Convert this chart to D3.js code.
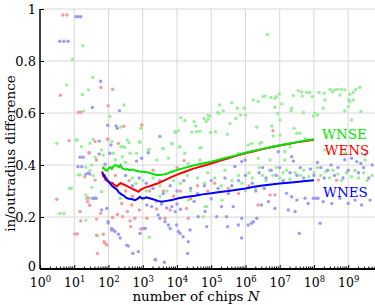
<!DOCTYPE html>
<html><head><meta charset="utf-8">
<script src="https://cdn.jsdelivr.net/npm/d3@7"></script>
<style>body{margin:0;background:#fff}svg{display:block}</style>
</head><body>
<svg id="chart" width="375" height="305"></svg>
<script>
// ---------- data ----------
const xTickExponents = [0,1,2,3,4,5,6,7,8,9];
const yTickValues = [0,0.2,0.4,0.6,0.8,1];
const yTickLabels = ["0","0.2","0.4","0.6","0.8","1"];
const seriesNames = ["WNSE","WENS","WNES"];
const xLabel = "number of chips ";
const xLabelVar = "N";
const yLabel = "in/outradius difference";

// running curves: log10(N) and value
const wnseLogN = [1.82,1.85,1.9,1.95,2.0,2.05,2.1,2.15,2.2,2.25,2.3,2.35,2.4,2.45,2.5,2.55,2.6,2.7,2.8,2.9,3.0,3.1,3.2,3.3,3.4,3.5,3.6,3.7,3.8,3.9,4.0,4.25,4.5,4.75,5.0,5.25,5.5,5.75,6.0,6.25,6.5,6.75,7.0,7.25,7.5,7.75,8.0];
const wnseVal  = [0.385,0.39,0.382,0.378,0.386,0.392,0.385,0.395,0.4,0.398,0.392,0.4,0.388,0.385,0.382,0.384,0.38,0.383,0.378,0.375,0.374,0.372,0.37,0.365,0.362,0.362,0.363,0.366,0.372,0.376,0.381,0.39,0.399,0.406,0.413,0.421,0.43,0.438,0.447,0.455,0.462,0.469,0.476,0.482,0.488,0.494,0.499];
const wensLogN = [1.8,1.83,1.86,1.88,1.9,1.95,2.0,2.05,2.1,2.15,2.2,2.25,2.3,2.35,2.4,2.5,2.6,2.7,2.8,2.87,2.95,3.02,3.1,3.2,3.3,3.45,3.65,3.85,4.04,4.25,4.5,4.75,5.0,5.25,5.5,5.75,6.0,6.25,6.5,6.75,7.0,7.25,7.5,7.75,8.0];
const wensVal  = [0.375,0.37,0.352,0.365,0.345,0.34,0.336,0.333,0.332,0.326,0.322,0.318,0.325,0.33,0.328,0.322,0.315,0.308,0.302,0.297,0.305,0.31,0.315,0.318,0.323,0.33,0.342,0.354,0.365,0.375,0.387,0.396,0.406,0.416,0.426,0.436,0.445,0.453,0.461,0.468,0.475,0.481,0.487,0.492,0.497];
const wnesLogN = [1.82,1.85,1.9,1.95,2.0,2.05,2.1,2.15,2.2,2.25,2.3,2.35,2.4,2.45,2.5,2.55,2.6,2.7,2.77,2.85,2.92,2.97,3.05,3.1,3.2,3.3,3.45,3.55,3.7,3.85,4.04,4.25,4.53,4.75,5.0,5.25,5.5,5.75,6.0,6.25,6.5,6.75,7.0,7.25,7.5,7.75,8.0];
const wnesVal  = [0.368,0.362,0.355,0.345,0.336,0.328,0.32,0.315,0.31,0.305,0.295,0.29,0.285,0.282,0.275,0.272,0.27,0.268,0.265,0.27,0.278,0.272,0.272,0.276,0.272,0.268,0.262,0.259,0.262,0.265,0.272,0.277,0.282,0.287,0.291,0.296,0.3,0.305,0.31,0.316,0.321,0.325,0.329,0.332,0.335,0.338,0.341];

// individual samples: [log10(N), value]
const wnsePoints = [[1.25,0.859],[0.95,0.806],[1.54,0.737],[0.78,0.708],[1.41,0.689],[1.24,0.671],[2.45,0.631],[1.27,0.608],[2.04,0.587],[2.36,0.546],[0.49,0.483],[1.05,0.496],[1.09,0.496],[1.55,0.499],[1.21,0.47],[2.0,0.5],[2.1,0.49],[1.34,0.391],[1.46,0.378],[1.12,0.362],[1.34,0.285],[1.62,0.272],[1.8,0.297],[0.58,0.214],[0.7,0.214],[1.34,0.188],[2.97,0.554],[1.46,0.483],[2.37,0.47],[2.6,0.486],[2.92,0.486],[1.8,0.458],[1.85,0.438],[2.14,0.445],[1.61,0.43],[2.41,0.432],[2.63,0.445],[2.82,0.445],[3.16,0.458],[1.51,0.4],[1.17,0.362],[1.56,0.358],[1.51,0.314],[0.86,0.31],[0.92,0.31],[1.36,0.272],[1.44,0.272],[1.68,0.128],[2.34,0.272],[3.19,0.122],
[2.95,0.541],[2.55,0.496],[2.9,0.49],[2.43,0.47],[2.48,0.468],[3.19,0.46],[3.58,0.463],[3.85,0.481],[3.97,0.525],[4.04,0.532],[4.11,0.582],[4.23,0.571],[4.07,0.47],[4.43,0.526],[4.5,0.567],[4.55,0.55],[4.57,0.528],[4.67,0.53],[4.67,0.465],[4.71,0.467],[4.79,0.579],[4.85,0.567],[4.91,0.576],[4.91,0.592],[4.96,0.588],[4.98,0.525],[5.24,0.631],[5.19,0.602],[5.35,0.608],[5.6,0.64],[5.76,0.618],[5.86,0.592],[5.96,0.618],[6.0,0.592],[5.72,0.579],[5.55,0.56],[5.47,0.518],[6.23,0.65],[3.94,0.528],[3.85,0.483],[4.09,0.47],[4.23,0.445],[3.6,0.463],[3.41,0.419],[3.75,0.426],[4.33,0.406],[4.67,0.419],[5.79,0.445],[6.08,0.477],[6.42,0.483],[5.13,0.528],[5.23,0.599],
[6.64,0.902],[6.37,0.644],[6.52,0.663],[6.57,0.665],[6.74,0.66],[6.86,0.656],[6.91,0.663],[6.99,0.673],[7.4,0.667],[7.54,0.686],[7.64,0.681],[7.66,0.665],[7.79,0.679],[7.88,0.679],[7.95,0.663],[8.15,0.679],[8.3,0.676],[8.47,0.691],[8.54,0.682],[8.61,0.689],[8.69,0.691],[8.8,0.691],[8.9,0.689],[8.76,0.669],[9.05,0.672],[9.15,0.679],[9.22,0.691],[9.34,0.699],[9.15,0.65],[9.02,0.65],[6.86,0.622],[7.06,0.635],[6.94,0.599],[7.35,0.618],[7.33,0.609],[7.69,0.602],[7.98,0.588],[8.03,0.599],[8.11,0.592],[8.27,0.618],[8.9,0.608],[9.1,0.573],[9.37,0.606],[7.01,0.573],[6.33,0.545],[6.77,0.55],[7.42,0.541],[7.5,0.522],[6.81,0.512],[6.18,0.483],[6.47,0.487],[7.01,0.515],[7.59,0.522],[7.74,0.502],[6.81,0.47],[7.15,0.451],[7.3,0.47],[7.15,0.419],[6.37,0.426],[6.72,0.419],[8.32,0.458],[8.9,0.445],[9.25,0.451],[9.49,0.419],[9.0,0.625],[9.05,0.644],[8.32,0.65],
[2.2,0.42],[2.5,0.41],[2.7,0.35],[2.8,0.33],[3.0,0.34],[3.1,0.3],[3.3,0.35],[3.5,0.32],[3.7,0.3],[3.9,0.34],[4.1,0.33],[4.3,0.36],[4.4,0.3],[4.6,0.35],[4.8,0.33],[4.9,0.37],[5.1,0.35],[5.3,0.32],[5.4,0.38],[5.6,0.34],[5.8,0.36],[5.9,0.33],[6.1,0.37],[6.2,0.35],[6.4,0.39],[6.5,0.36],[6.6,0.34],[6.7,0.38],[6.8,0.36],[6.9,0.39],[7.0,0.35],[7.1,0.37],[7.2,0.38],[7.3,0.345],[7.45,0.37],[7.6,0.36],[7.7,0.38],[7.85,0.355],[8.0,0.37],[8.1,0.39],[8.2,0.36],[8.35,0.375],[8.45,0.35],[8.55,0.38],[8.7,0.365],[8.8,0.34],[8.95,0.37],[9.1,0.355],[9.2,0.38],[9.3,0.35],[9.45,0.37],[9.55,0.34],[9.7,0.36],[5.32,0.265],[4.87,0.24],[4.82,0.24],[4.77,0.201],[4.33,0.265],[3.5,0.28],[6.0,0.3],[6.3,0.31]];

const wensPoints = [[0.67,0.977],[0.79,0.977],[1.78,0.698],[2.12,0.691],[0.6,0.668],[1.99,0.628],[1.12,0.603],[1.19,0.603],[2.45,0.549],[0.85,0.493],[1.61,0.49],[1.97,0.499],[1.43,0.446],[0.49,0.268],[1.39,0.274],[1.39,0.259],[1.45,0.245],[1.19,0.185],[1.65,0.192],[1.77,0.214],[1.02,0.135],[1.09,0.135],[1.65,0.13],[1.9,0.099],[1.68,0.06],[2.29,0.483],[1.44,0.447],[1.65,0.419],[1.31,0.355],[1.61,0.342],[1.17,0.221],[1.87,0.105],[1.95,0.092],[1.85,0.134],[2.12,0.198],[2.26,0.21],[2.41,0.201],[2.55,0.221],[2.63,0.185],[2.65,0.163],[2.94,0.154],[2.77,0.195],[2.68,0.246],[2.39,0.252],[2.97,0.554],[4.21,0.417],[3.12,0.195],[3.65,0.195],[4.33,0.195],[3.41,0.231],[3.8,0.227],[4.28,0.233],[6.8,0.532],[6.72,0.285],[6.86,0.285],[8.13,0.342],[8.66,0.342],[6.37,0.246],[2.9,0.227],[2.2,0.36],[2.5,0.3],[2.6,0.34],[2.7,0.28],[3.0,0.27],[3.2,0.3],[3.4,0.26],[3.6,0.3],[3.9,0.28],[4.1,0.3],[4.4,0.27],[4.6,0.32],[4.9,0.3],[5.1,0.33],[5.5,0.31],[5.8,0.29],[6.1,0.32],[3.3,0.38],[4.0,0.39]];

const wnesPoints = [[1.05,0.97],[1.12,0.97],[1.19,0.97],[0.58,0.876],[0.7,0.876],[0.82,0.876],[1.77,0.722],[1.53,0.621],[2.32,0.609],[1.98,0.553],[2.22,0.55],[2.26,0.541],[1.73,0.492],[2.07,0.477],[1.11,0.393],[1.22,0.393],[1.34,0.365],[1.46,0.365],[1.58,0.272],[1.99,0.177],[2.09,0.15],[1.73,0.442],[2.04,0.445],[1.17,0.43],[1.26,0.43],[2.82,0.415],[2.97,0.426],[1.9,0.403],[1.41,0.368],[3.5,0.51],[3.16,0.447],[5.89,0.413],[5.99,0.419],[5.69,0.394],
[3.12,0.246],[3.26,0.24],[3.45,0.208],[3.5,0.195],[3.65,0.182],[3.75,0.169],[3.8,0.156],[3.99,0.169],[4.04,0.144],[4.09,0.137],[4.18,0.124],[4.33,0.105],[4.31,0.06],[3.63,0.026],[3.38,0.035],[3.07,0.156],[4.38,0.15],[4.87,0.163],[4.62,0.201],[5.16,0.201],[5.45,0.201],[5.48,0.163],[5.89,0.195],[5.79,0.169],[6.08,0.169],[6.18,0.176],[6.33,0.195],[5.89,0.119],[4.82,0.221],[5.3,0.24],[5.64,0.24],[7.2,0.291],[7.35,0.278],[7.5,0.265],[7.74,0.272],[7.83,0.252],[7.98,0.272],[8.05,0.272],[8.12,0.272],[8.27,0.259],[8.18,0.176],[7.57,0.137],[6.86,0.233],[6.67,0.259],[6.47,0.246],[7.25,0.227],[7.45,0.221],[8.52,0.252],[8.76,0.272],[9.0,0.252],[9.2,0.265],[9.39,0.246],[9.64,0.265],[6.23,0.182],[1.99,0.182],[2.09,0.156],[2.14,0.15],[2.19,0.144],[2.29,0.134],[2.34,0.119],[2.53,0.092],[2.58,0.088],[2.87,0.067],[1.8,0.227],[1.95,0.233],[3.02,0.156],[1.54,0.272],[1.64,0.272],[2.71,0.06],[3.36,0.037],[2.92,0.137],
[2.5,0.36],[2.7,0.32],[2.9,0.35],[3.1,0.33],[3.3,0.31],[3.5,0.34],[3.6,0.29],[3.8,0.32],[4.0,0.3],[4.2,0.34],[4.4,0.31],[4.6,0.29],[4.8,0.32],[5.0,0.34],[5.2,0.31],[5.4,0.35],[5.6,0.32],[5.8,0.34],[6.0,0.36],[6.2,0.33],[6.4,0.37],[6.5,0.39],[6.6,0.35],[6.75,0.38],[6.9,0.36],[7.0,0.39],[7.1,0.34],[7.3,0.37],[7.35,0.432],[7.4,0.415],[6.96,0.451],[7.5,0.36],[7.6,0.39],[7.7,0.35],[7.9,0.385],[8.0,0.36],[8.2,0.39],[8.3,0.35],[8.4,0.38],[8.5,0.4],[8.6,0.36],[8.7,0.39],[8.85,0.35],[9.0,0.38],[9.1,0.426],[9.25,0.413],[9.37,0.406],[9.3,0.37],[9.45,0.39],[9.6,0.35],[9.7,0.4],[9.5,0.44],[8.9,0.42],[8.1,0.41],[6.3,0.3],[6.55,0.31],[5.5,0.29],[5.0,0.27],[4.5,0.26],[4.0,0.25],[3.85,0.24],[3.95,0.22],[4.1,0.23],[3.7,0.235],[3.55,0.25]];

// ---------- drawing ----------
const svg = d3.select("#chart");
const pLeft = 40, pRight = 375.6, pTop = 9, pBottom = 269;
const x = d3.scaleLog().domain([1, Math.pow(10, 9.8)]).range([pLeft, pRight]);
const y = d3.scaleLinear().domain([0, 1]).range([pBottom, pTop]);
const N = e => Math.pow(10, e);

const serif = "DejaVu Serif";
const pointColors = ["#99ee99","#f59b9b","#9b9bf5"];
const lineColors = ["#00e600","#ff0000","#0000ff"];

svg.append("defs").append("clipPath").attr("id","clip")
  .append("rect").attr("x", pLeft).attr("y", pTop-2).attr("width", pRight-pLeft).attr("height", pBottom-pTop+2);

// grid
const grid = svg.append("g").attr("stroke","#d8d8d8").attr("stroke-width",1);
grid.selectAll("line.v").data(xTickExponents.slice(1)).join("line").attr("class","v")
  .attr("x1", d => x(N(d))).attr("x2", d => x(N(d)))
  .attr("y1", pTop).attr("y2", pBottom);
grid.selectAll("line.h").data(yTickValues.slice(1)).join("line").attr("class","h")
  .attr("x1", pLeft).attr("x2", pRight)
  .attr("y1", d => y(d)).attr("y2", d => y(d));

// points
const plot = svg.append("g").attr("clip-path","url(#clip)");
[wnsePoints, wensPoints, wnesPoints].forEach((pts, i) => {
  plot.append("g").attr("fill", pointColors[i])
    .selectAll("circle").data(pts).join("circle")
    .attr("cx", d => x(N(d[0]))).attr("cy", d => y(d[1])).attr("r", 1.7);
});

// curves
const curves = [[wnseLogN, wnseVal],[wensLogN, wensVal],[wnesLogN, wnesVal]];
const line = d3.line().x(d => x(N(d[0]))).y(d => y(d[1]));
[1,0,2].forEach(i => {
  const data = curves[i][0].map((e, k) => [e, curves[i][1][k]]);
  plot.append("path").datum(data).attr("d", line)
    .attr("fill","none").attr("stroke", lineColors[i]).attr("stroke-width", 2);
});

// axes
const yAxis = d3.axisLeft(y).tickValues(yTickValues).tickSize(-4).tickPadding(4)
  .tickFormat((d, i) => yTickLabels[i]);
const gy = svg.append("g").attr("transform", `translate(${pLeft},0)`).call(yAxis);
gy.select(".domain").attr("stroke","#000").attr("stroke-width",1.5).attr("d", `M0,${pBottom}V${pTop}`);
gy.selectAll(".tick line").attr("stroke","#000").attr("stroke-width",1);
gy.selectAll(".tick text").attr("font-family", serif).attr("font-size", 13).attr("fill","#000")
  .attr("dy", d => d === 0 ? "0.1em" : "0.32em");

const xAxis = d3.axisBottom(x).tickValues(xTickExponents.map(N)).tickSize(-4).tickPadding(6).tickFormat("");
const gx = svg.append("g").attr("transform", `translate(0,${pBottom})`).call(xAxis);
gx.select(".domain").attr("stroke","#000").attr("stroke-width",2).attr("d", `M${pLeft},0H${pRight}`);
gx.selectAll(".tick line").attr("stroke","#000").attr("stroke-width",1);
gx.selectAll(".tick").each(function(d, i) {
  const t = d3.select(this).append("text").attr("y", 17.5).attr("text-anchor","middle")
    .attr("font-family", serif).attr("font-size", 12.5).attr("fill","#000");
  t.append("tspan").text("10");
  t.append("tspan").attr("dy", -4.5).attr("font-size", 8.5).text(xTickExponents[i]);
});
// minor ticks
const minor = [];
xTickExponents.forEach(e => { for (let m = 2; m <= 9; m++) { const v = m * N(e); if (v < x.domain()[1]) minor.push(v); } });
svg.append("g").attr("stroke","#000").attr("stroke-width",1)
  .selectAll("line").data(minor).join("line")
  .attr("x1", d => x(d)).attr("x2", d => x(d)).attr("y1", pBottom).attr("y2", pBottom - 2.5);

// axis labels
const xl = svg.append("text").attr("x", 196).attr("y", 301).attr("text-anchor","middle")
  .attr("font-family", serif).attr("font-size", 13.5).attr("fill","#000");
xl.append("tspan").text(xLabel);
xl.append("tspan").attr("font-style","italic").text(xLabelVar);

svg.append("text").attr("transform","translate(15,153.5) rotate(-90)").attr("text-anchor","middle")
  .attr("font-family", serif).attr("font-size", 13.5).attr("fill","#000").text(yLabel);

// series labels
const labelPos = [[322,139],[324.5,155],[323,197]];
seriesNames.forEach((s, i) => {
  svg.append("text").attr("x", labelPos[i][0]).attr("y", labelPos[i][1])
    .attr("font-family", serif).attr("font-size", 13.5).attr("fill", lineColors[i]).text(s);
});
</script>
</body></html>
